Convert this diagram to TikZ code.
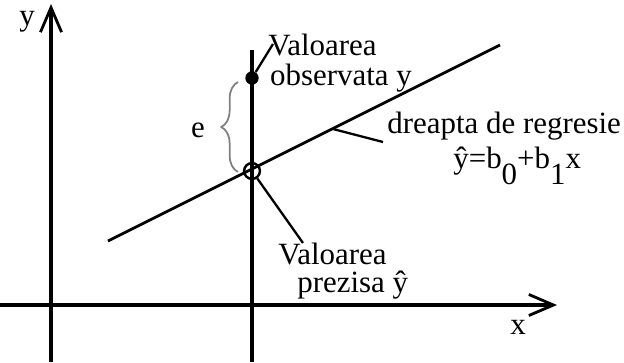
\documentclass[tikz,border=0pt]{standalone}
\usepackage{fontspec}
\setmainfont{Liberation Serif}
\usetikzlibrary{arrows.meta, decorations.pathreplacing}

\begin{document}
\begin{tikzpicture}[x=0.02cm, y=-0.02cm,
    axis/.style={line width=2pt, -{Straight Barb[length=14pt, width=12pt, line width=1.6pt]}},
    lbl/.style={font=\fontsize{17.6}{20}\selectfont, inner sep=0pt},
    leader/.style={line width=1.3pt}]
    \useasboundingbox (0,0) rectangle (624,362);
    % axes
    \coordinate (xa) at (0,305);
    \coordinate (xb) at (557,305);
    \coordinate (ya) at (51,362);
    \coordinate (yb) at (51,4);
    \draw[axis] (xa) -- (xb);
    \draw[axis] (ya) -- (yb);
    \node[lbl] (ylbl) at (27,22) {y};
    \node[lbl] (xlbl) at (518,327) {x};
    % regression line and vertical line
    \coordinate (r1) at (108,241);
    \coordinate (r2) at (500,45);
    \draw[line width=1.6pt] (r1) -- (r2);
    \coordinate (v1) at (252,50);
    \coordinate (v2) at (252,362);
    \draw[line width=2pt] (v1) -- (v2);
    \node[circle, fill, inner sep=0pt, minimum size=7.6pt] (obs) at (252,78) {};
    \node[circle, draw, line width=1.4pt, inner sep=0pt, minimum size=9pt] (pred) at (252,171) {};
    % residual
    \draw[gray, line width=1pt, decorate, decoration={brace, amplitude=9.5pt}] (238,172) -- (238,82);
    \node[lbl] (elbl) at (198,130) {e};
    % labels
    \node[lbl, font=\fontsize{17.6}{17}\selectfont, align=left, anchor=base west] (obslbl) at (268,85)
        {Valoarea\\\hspace*{1pt}observata y};
    \coordinate (obsend) at (273,44);
    \draw[leader] (obs) -- (obsend);
    \node[lbl, anchor=base west] (regrA) at (387,133) {dreapta de regresie};
    \node[lbl, anchor=base west] (regrB) at (453,168) {ŷ=b\raisebox{-9.5pt}{0}+b\raisebox{-9.5pt}{1}x};
    \coordinate (rl1) at (333,129);
    \coordinate (rl2) at (383,142);
    \draw[leader] (rl1) -- (rl2);
    \node[lbl, font=\fontsize{17.6}{15.6}\selectfont, align=left, anchor=base west] (predlbl) at (278,292)
        {Valoarea\\\hspace*{10.8pt}prezisa ŷ};
    \coordinate (predend) at (303,243);
    \draw[leader] (pred) -- (predend);
\end{tikzpicture}
\end{document}
